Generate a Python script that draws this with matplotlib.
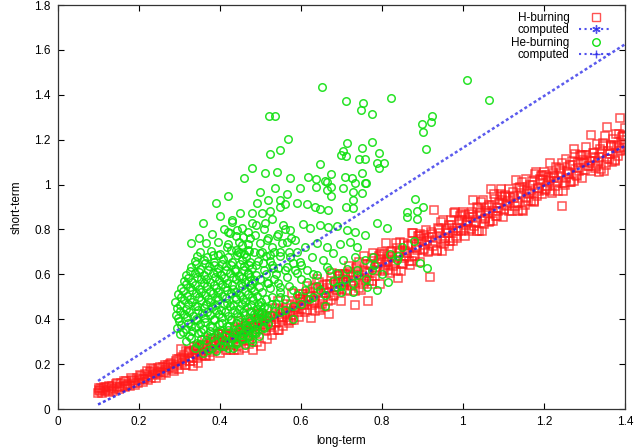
import matplotlib
matplotlib.use("Agg")
import matplotlib.pyplot as plt
from matplotlib.lines import Line2D
from matplotlib.ticker import FormatStrFormatter

# ---------------- data ----------------
h_points = [
    (0.100,0.072),(0.102,0.085),(0.105,0.078),(0.108,0.092),(0.110,0.070),(0.113,0.088),(0.117,0.080),(0.120,0.097),
    (0.124,0.086),(0.128,0.075),(0.131,0.094),(0.135,0.101),(0.140,0.088),(0.144,0.110),(0.148,0.097),(0.152,0.091),
    (0.157,0.118),(0.161,0.104),(0.166,0.099),(0.170,0.125),(0.174,0.112),(0.178,0.103),(0.183,0.131),(0.187,0.118),
    (0.191,0.109),(0.196,0.140),(0.200,0.127),(0.204,0.152),(0.208,0.133),(0.212,0.121),(0.216,0.158),(0.220,0.142),
    (0.224,0.130),(0.228,0.165),(0.232,0.150),(0.236,0.176),(0.240,0.158),(0.244,0.140),(0.248,0.181),(0.252,0.166),
    (0.256,0.150),(0.260,0.188),(0.264,0.172),(0.268,0.160),(0.272,0.196),(0.276,0.181),(0.280,0.205),(0.284,0.186),
    (0.288,0.170),(0.292,0.212),(0.296,0.195),(0.300,0.222),(0.300,0.180),
    (0.103,0.095),(0.115,0.100),(0.126,0.104),(0.138,0.080),(0.146,0.118),(0.155,0.100),(0.163,0.125),(0.172,0.108),
    (0.181,0.140),(0.189,0.125),(0.198,0.115),(0.206,0.145),(0.214,0.135),(0.222,0.168),(0.230,0.140),(0.238,0.170),
    (0.246,0.160),(0.254,0.185),(0.262,0.165),(0.270,0.185),(0.278,0.200),(0.286,0.178),(0.294,0.225),(0.230,0.182),
    (0.265,0.198),
    (0.305,0.228),(0.308,0.205),(0.312,0.240),(0.315,0.215),(0.318,0.195),(0.322,0.248),(0.325,0.226),(0.328,0.258),
    (0.332,0.233),(0.335,0.212),(0.338,0.262),(0.342,0.245),(0.345,0.228),(0.348,0.270),(0.352,0.255),(0.355,0.236),
    (0.358,0.280),(0.362,0.262),(0.365,0.240),(0.368,0.290),(0.372,0.270),(0.375,0.252),(0.378,0.298),(0.382,0.281),
    (0.385,0.262),(0.388,0.305),(0.392,0.288),(0.395,0.270),(0.398,0.312),(0.400,0.250),(0.403,0.296),(0.406,0.320),
    (0.410,0.280),(0.413,0.305),(0.416,0.330),(0.420,0.290),(0.423,0.315),(0.426,0.262),(0.430,0.338),(0.433,0.300),
    (0.436,0.325),(0.440,0.350),(0.443,0.310),(0.446,0.280),(0.450,0.340),(0.453,0.362),(0.456,0.322),(0.460,0.270),
    (0.463,0.348),(0.466,0.372),(0.470,0.330),(0.473,0.290),(0.476,0.360),(0.480,0.385),(0.483,0.262),(0.486,0.345),
    (0.490,0.372),(0.493,0.300),(0.496,0.395),(0.500,0.355),(0.503,0.282),(0.506,0.380),(0.510,0.405),(0.513,0.365),
    (0.516,0.310),(0.520,0.392),(0.523,0.415),(0.526,0.375),(0.530,0.330),(0.533,0.402),(0.536,0.425),(0.540,0.385),
    (0.543,0.350),(0.546,0.412),(0.550,0.438),(0.553,0.395),(0.556,0.372),(0.560,0.425),(0.563,0.450),(0.566,0.408),
    (0.570,0.385),(0.573,0.438),(0.576,0.462),(0.580,0.420),(0.583,0.395),(0.586,0.450),(0.590,0.472),(0.593,0.432),
    (0.596,0.410),(0.600,0.465),(0.600,0.490),
    (0.605,0.497),(0.610,0.431),(0.615,0.546),(0.620,0.480),(0.625,0.405),(0.630,0.539),(0.635,0.473),(0.640,0.578),
    (0.645,0.452),(0.650,0.517),(0.655,0.551),(0.660,0.456),(0.665,0.540),(0.670,0.424),(0.675,0.589),(0.680,0.503),
    (0.685,0.568),(0.690,0.532),(0.695,0.597),(0.700,0.481),(0.705,0.565),(0.710,0.600),(0.715,0.524),(0.720,0.639),
    (0.725,0.553),(0.730,0.598),(0.735,0.462),(0.740,0.636),(0.745,0.541),(0.750,0.595),(0.755,0.680),(0.760,0.574),
    (0.765,0.479),(0.770,0.643),(0.775,0.557),(0.780,0.672),(0.785,0.616),(0.790,0.651),(0.795,0.555),(0.800,0.700),
    (0.805,0.614),(0.810,0.738),(0.815,0.653),(0.820,0.607),(0.825,0.702),(0.830,0.646),(0.835,0.740),(0.840,0.585),
    (0.845,0.699),(0.850,0.644),(0.855,0.738),(0.860,0.683),(0.865,0.727),(0.870,0.641),(0.875,0.786),(0.880,0.680),
    (0.885,0.725),(0.890,0.769),(0.895,0.654),(0.900,0.748),(0.905,0.712),(0.910,0.797),(0.915,0.701),(0.920,0.586),
    (0.925,0.780),(0.930,0.885),(0.935,0.709),(0.940,0.803),(0.945,0.758),(0.950,0.842),(0.955,0.747),(0.960,0.801),
    (0.965,0.726),(0.970,0.840),(0.975,0.794),(0.980,0.879),(0.985,0.763),(0.990,0.838),(0.995,0.792),(1.000,0.877),
    (1.005,0.771),(1.010,0.835),(1.015,0.870),(1.020,0.804),(1.025,0.929),(1.030,0.833),(1.035,0.898),(1.040,0.792),
    (1.045,0.876),(1.050,0.931),(1.055,0.845),(1.060,0.900),(1.065,0.834),(1.070,0.978),(1.075,0.883),(1.080,0.937),
    (1.085,0.862),(1.090,0.916),(1.095,0.981),(1.100,0.855),(1.105,0.949),(1.110,0.904),(1.115,0.978),(1.120,0.883),
    (1.125,0.947),(1.130,1.022),(1.135,0.916),(1.140,0.990),(1.145,0.885),(1.150,0.979),(1.155,1.024),(1.160,0.928),
    (1.165,0.973),(1.170,1.017),(1.175,0.921),(1.180,1.056),(1.185,0.980),(1.190,1.025),(1.195,0.959),(1.200,1.054),
    (1.205,0.978),(1.210,1.032),(1.215,1.097),(1.220,0.961),(1.225,1.036),(1.230,1.080),(1.235,1.015),(1.245,0.903),
    (1.240,1.069),(1.250,1.008),(1.255,1.112),(1.260,1.057),(1.265,1.011),(1.270,1.106),(1.275,1.160),(1.280,1.044),
    (1.285,1.099),(1.290,1.133),(1.295,1.028),(1.300,1.102),(1.305,1.167),(1.310,1.081),(1.316,1.220),(1.320,1.140),
    (1.325,1.074),(1.330,1.179),(1.335,1.123),(1.340,1.068),(1.345,1.172),(1.350,1.216),(1.356,1.255),(1.360,1.115),
    (1.365,1.170),(1.370,1.204),(1.375,1.108),(1.380,1.173),(1.385,1.227),(1.388,1.295),(1.390,1.152),(1.395,1.216),
    (1.398,1.169),(1.400,1.251),
    (0.6025,0.445),(0.6125,0.484),(0.6225,0.523),(0.6325,0.481),(0.6425,0.520),(0.6525,0.469),(0.6625,0.518),(0.6725,0.557),
    (0.6825,0.506),(0.6925,0.594),(0.7025,0.533),(0.7125,0.572),(0.7225,0.611),(0.7325,0.570),(0.7425,0.609),(0.7525,0.557),
    (0.7625,0.606),(0.7725,0.645),(0.7825,0.594),(0.7925,0.683),(0.8025,0.622),(0.8125,0.661),(0.8225,0.699),(0.8325,0.658),
    (0.8425,0.697),(0.8525,0.646),(0.8625,0.695),(0.8725,0.734),(0.8825,0.682),(0.8925,0.771),(0.9025,0.710),(0.9125,0.749),
    (0.9225,0.788),(0.9325,0.747),(0.9425,0.786),(0.9525,0.734),(0.9625,0.783),(0.9725,0.822),(0.9825,0.771),(0.9925,0.860),
    (1.0025,0.799),(1.0125,0.838),(1.0225,0.876),(1.0325,0.835),(1.0425,0.874),(1.0525,0.823),(1.0625,0.872),(1.0725,0.911),
    (1.0825,0.860),(1.0925,0.948),(1.1025,0.887),(1.1125,0.926),(1.1225,0.965),(1.1325,0.924),(1.1425,0.963),(1.1525,0.911),
    (1.1625,0.960),(1.1725,0.999),(1.1825,0.948),(1.1925,1.037),(1.2025,0.976),(1.2125,1.015),(1.2225,1.053),(1.2325,1.012),
    (1.2425,1.051),(1.2525,1.000),(1.2625,1.049),(1.2725,1.088),(1.2825,1.037),(1.2925,1.125),(1.3025,1.064),(1.3125,1.103),
    (1.3225,1.142),(1.3325,1.101),(1.3425,1.140),(1.3525,1.088),(1.3625,1.137),(1.3725,1.176),(1.3825,1.125),(1.3925,1.214),
    (0.305,0.266),(0.315,0.195),(0.325,0.254),(0.335,0.193),(0.345,0.282),(0.355,0.251),(0.365,0.309),(0.375,0.238),
    (0.385,0.297),(0.395,0.336),(0.405,0.335),(0.415,0.264),(0.425,0.323),(0.435,0.262),(0.445,0.390),(0.455,0.319),
    (0.465,0.378),(0.475,0.307),(0.485,0.366),(0.495,0.425),(0.505,0.423),(0.515,0.352),(0.525,0.411),(0.535,0.350),
    (0.545,0.479),(0.555,0.408),(0.565,0.467),(0.575,0.395),(0.585,0.454),(0.595,0.513),(0.605,0.512),(0.615,0.441),
    (0.625,0.500),(0.635,0.438),(0.645,0.567),(0.655,0.496),(0.665,0.555),(0.675,0.484),(0.685,0.543),(0.695,0.602),
    (0.705,0.600),(0.715,0.529),(0.725,0.588),(0.735,0.527),(0.745,0.656),(0.755,0.585),(0.765,0.644),(0.775,0.572),
    (0.785,0.631),(0.795,0.690),(0.805,0.689),(0.815,0.618),(0.825,0.677),(0.835,0.615),(0.845,0.744),(0.855,0.673),
    (0.865,0.732),(0.875,0.661),(0.885,0.720),(0.895,0.779),(0.905,0.777),(0.915,0.706),(0.925,0.765),(0.935,0.704),
    (0.945,0.833),(0.955,0.762),(0.965,0.821),(0.975,0.749),(0.985,0.808),(0.995,0.867),(1.005,0.866),(1.015,0.795),
    (1.025,0.854),(1.035,0.793),(1.045,0.921),(1.055,0.850),(1.065,0.909),(1.075,0.838),(1.085,0.897),(1.095,0.956),
    (1.105,0.954),(1.115,0.883),(1.125,0.942),(1.135,0.881),(1.145,1.010),(1.155,0.939),(1.165,0.998),(1.175,0.926),
    (1.185,0.985),(1.195,1.044),(1.205,1.043),(1.215,0.972),(1.225,1.031),(1.235,0.970),(1.245,1.098),(1.255,1.027),
    (1.265,1.086),(1.275,1.015),(1.285,1.074),(1.295,1.133),(1.305,1.132),(1.315,1.060),(1.325,1.119),(1.335,1.058),
    (1.345,1.187),(1.355,1.116),(1.365,1.175),(1.375,1.103),(1.385,1.162),(1.395,1.221),
    (0.3075,0.219),(0.3175,0.257),(0.3275,0.216),(0.3375,0.275),(0.3475,0.205),(0.3575,0.283),(0.3675,0.237),(0.3775,0.315),
    (0.3875,0.284),(0.3975,0.333),(0.4075,0.287),(0.4175,0.326),(0.4275,0.285),(0.4375,0.364),(0.4475,0.263),(0.4575,0.351),
    (0.4675,0.305),(0.4775,0.429),(0.4875,0.353),(0.4975,0.402),(0.5075,0.376),(0.5175,0.414),(0.5275,0.373),(0.5375,0.452),
    (0.5475,0.351),(0.5575,0.440),(0.5675,0.394),(0.5775,0.518),(0.5875,0.441),(0.5975,0.490),(0.6075,0.464),(0.6175,0.503),
    (0.6275,0.462),(0.6375,0.541),(0.6475,0.440),(0.6575,0.528),(0.6675,0.482),(0.6775,0.606),(0.6875,0.530),(0.6975,0.579),
    (0.7075,0.553),(0.7175,0.591),(0.7275,0.550),(0.7375,0.629),(0.7475,0.528),(0.7575,0.617),(0.7675,0.571),(0.7775,0.695),
    (0.7875,0.618),(0.7975,0.667),(0.8075,0.641),(0.8175,0.680),(0.8275,0.639),(0.8375,0.718),(0.8475,0.617),(0.8575,0.705),
    (0.8675,0.659),(0.8775,0.783),(0.8875,0.707),(0.8975,0.756),(0.9075,0.730),(0.9175,0.768),(0.9275,0.727),(0.9375,0.806),
    (0.9475,0.705),(0.9575,0.794),(0.9675,0.748),(0.9775,0.872),(0.9875,0.795),(0.9975,0.844),(1.0075,0.818),(1.0175,0.857),
    (1.0275,0.816),(1.0375,0.895),(1.0475,0.794),(1.0575,0.882),(1.0675,0.836),(1.0775,0.960),(1.0875,0.884),(1.0975,0.933),
    (1.1075,0.907),(1.1175,0.945),(1.1275,0.904),(1.1375,0.983),(1.1475,0.882),(1.1575,0.971),(1.1675,0.925),(1.1775,1.049),
    (1.1875,0.972),(1.1975,1.021),(1.2075,0.995),(1.2175,1.034),(1.2275,0.993),(1.2375,1.072),(1.2475,0.971),(1.2575,1.059),
    (1.2675,1.013),(1.2775,1.137),(1.2875,1.061),(1.2975,1.110),(1.3075,1.084),(1.3175,1.122),(1.3275,1.081),(1.3375,1.160),
    (1.3475,1.059),(1.3575,1.148),(1.3675,1.102),(1.3775,1.226),(1.3875,1.149),(1.3975,1.198),
]

he_points = [
    # dense cluster
    (0.340,0.272),(0.372,0.265),(0.401,0.280),(0.433,0.270),(0.462,0.283),
    (0.318,0.302),(0.345,0.295),(0.366,0.308),(0.389,0.298),(0.412,0.305),(0.437,0.296),(0.458,0.310),(0.481,0.300),
    (0.302,0.332),(0.325,0.325),(0.347,0.338),(0.368,0.328),(0.391,0.335),(0.414,0.324),(0.436,0.340),(0.457,0.330),
    (0.479,0.337),(0.497,0.326),
    (0.295,0.362),(0.316,0.355),(0.338,0.367),(0.359,0.358),(0.381,0.365),(0.402,0.352),(0.424,0.368),(0.445,0.357),
    (0.467,0.364),(0.488,0.355),(0.508,0.366),
    (0.300,0.392),(0.321,0.385),(0.343,0.397),(0.364,0.388),(0.386,0.395),(0.407,0.383),(0.429,0.398),(0.450,0.387),
    (0.472,0.394),(0.493,0.385),(0.513,0.396),
    (0.292,0.418),(0.313,0.425),(0.334,0.415),(0.356,0.427),(0.377,0.417),(0.399,0.424),(0.420,0.414),(0.442,0.428),
    (0.463,0.418),(0.485,0.425),(0.506,0.415),
    (0.296,0.452),(0.318,0.445),(0.339,0.457),(0.361,0.448),(0.382,0.455),(0.404,0.443),(0.425,0.458),(0.447,0.447),
    (0.468,0.454),(0.490,0.445),(0.510,0.456),
    (0.290,0.478),(0.311,0.485),(0.333,0.475),(0.354,0.487),(0.376,0.477),(0.397,0.484),(0.419,0.474),(0.440,0.488),
    (0.462,0.478),(0.483,0.485),(0.503,0.476),
    (0.298,0.512),(0.320,0.505),(0.341,0.517),(0.363,0.508),(0.384,0.515),(0.406,0.503),(0.427,0.518),(0.449,0.507),
    (0.470,0.514),(0.492,0.505),
    (0.305,0.538),(0.326,0.545),(0.348,0.535),(0.369,0.547),(0.391,0.537),(0.412,0.544),(0.434,0.534),(0.455,0.548),
    (0.477,0.538),(0.497,0.545),
    (0.312,0.572),(0.333,0.565),(0.355,0.577),(0.376,0.568),(0.398,0.575),(0.419,0.563),(0.441,0.578),(0.462,0.567),
    (0.484,0.574),
    (0.318,0.598),(0.340,0.605),(0.361,0.595),(0.383,0.607),(0.404,0.597),(0.426,0.604),(0.447,0.594),(0.469,0.608),
    (0.490,0.598),
    (0.330,0.632),(0.352,0.625),(0.373,0.637),(0.395,0.628),(0.416,0.635),(0.438,0.623),(0.459,0.638),(0.480,0.627),
    (0.338,0.658),(0.362,0.665),(0.385,0.655),(0.408,0.667),(0.431,0.657),(0.454,0.664),(0.476,0.654),
    (0.352,0.698),(0.378,0.705),(0.402,0.692),(0.427,0.708),(0.451,0.697),(0.472,0.703),
    (0.366,0.738),(0.395,0.745),(0.421,0.733),(0.448,0.742),(0.470,0.736),
    (0.330,0.318),(0.355,0.312),(0.380,0.320),(0.405,0.314),(0.430,0.321),(0.455,0.316),
    (0.305,0.376),(0.330,0.372),(0.352,0.380),(0.375,0.371),(0.398,0.378),(0.418,0.370),(0.440,0.381),(0.462,0.373),
    (0.482,0.379),
    (0.303,0.437),(0.325,0.432),(0.347,0.440),(0.370,0.431),(0.392,0.439),(0.414,0.433),(0.436,0.440),(0.457,0.431),
    (0.478,0.438),(0.498,0.432),
    (0.305,0.497),(0.327,0.492),(0.349,0.500),(0.371,0.491),(0.393,0.499),(0.415,0.493),(0.437,0.500),(0.458,0.491),
    (0.480,0.498),
    (0.318,0.557),(0.340,0.552),(0.362,0.560),(0.385,0.551),(0.407,0.559),(0.430,0.553),(0.452,0.560),(0.474,0.551),
    (0.328,0.617),(0.350,0.612),(0.372,0.620),(0.394,0.611),(0.416,0.619),(0.438,0.613),(0.460,0.620),
    (0.345,0.682),(0.370,0.678),(0.395,0.686),(0.420,0.676),(0.444,0.684),(0.466,0.679),
    (0.310,0.343),(0.332,0.349),(0.354,0.341),(0.376,0.347),(0.398,0.344),(0.420,0.350),(0.442,0.342),(0.464,0.348),
    (0.486,0.345),
    (0.297,0.404),(0.319,0.409),(0.341,0.401),(0.363,0.407),(0.385,0.403),(0.407,0.410),(0.429,0.402),(0.451,0.408),
    (0.473,0.404),(0.495,0.406),
    (0.301,0.463),(0.323,0.468),(0.345,0.461),(0.367,0.467),(0.389,0.464),(0.411,0.469),(0.433,0.462),(0.455,0.467),
    (0.477,0.465),(0.499,0.460),
    (0.309,0.524),(0.331,0.529),(0.353,0.521),(0.375,0.527),(0.397,0.523),(0.419,0.528),(0.441,0.522),(0.463,0.527),
    (0.485,0.525),
    (0.322,0.584),(0.344,0.589),(0.366,0.581),(0.388,0.587),(0.410,0.583),(0.432,0.588),(0.454,0.582),(0.476,0.586),
    (0.341,0.644),(0.363,0.649),(0.385,0.641),(0.407,0.647),(0.429,0.643),(0.451,0.648),(0.473,0.642),
    (0.500,0.580),(0.510,0.620),(0.520,0.560),(0.530,0.640),(0.540,0.600),(0.550,0.680),(0.560,0.620),(0.570,0.700),
    (0.580,0.650),(0.505,0.520),(0.525,0.540),(0.545,0.560),(0.565,0.590),(0.585,0.620),(0.495,0.660),(0.515,0.680),
    (0.535,0.700),(0.555,0.740),(0.575,0.760),(0.545,0.780),(0.520,0.760),(0.500,0.740),(0.485,0.700),(0.490,0.640),
    (0.480,0.560),(0.470,0.600),(0.460,0.690),(0.475,0.760),(0.455,0.730),(0.440,0.710),(0.510,0.800),(0.560,0.800),
    (0.590,0.700),(0.600,0.640),(0.530,0.470),(0.550,0.500),(0.515,0.490),(0.495,0.470),(0.505,0.430),(0.485,0.410),
    (0.520,0.410),
    (0.380,0.780),(0.410,0.800),(0.440,0.770),(0.470,0.790),(0.360,0.830),(0.400,0.860),(0.430,0.840),(0.350,0.760),
    (0.490,0.820),(0.390,0.920),(0.420,0.950),(0.330,0.740),(0.384,0.686),(0.421,0.790),(0.442,0.798),
    # near the red band
    (0.600,0.470),(0.630,0.500),(0.660,0.460),(0.700,0.520),(0.730,0.560),(0.760,0.580),(0.800,0.600),(0.840,0.680),
    (0.550,0.430),(0.580,0.400),(0.520,0.380),(0.500,0.420),(0.470,0.360),(0.450,0.330),(0.430,0.310),(0.410,0.280),
    (0.380,0.270),(0.360,0.250),(0.350,0.290),
    (0.520,0.450),(0.530,0.500),(0.540,0.470),(0.550,0.520),(0.560,0.490),(0.570,0.550),(0.580,0.460),(0.590,0.510),
    (0.610,0.530),(0.620,0.490),(0.640,0.550),(0.660,0.510),(0.680,0.570),(0.700,0.550),(0.530,0.420),(0.560,0.440),
    (0.515,0.600),(0.535,0.580),(0.525,0.660),(0.545,0.630),(0.600,0.580),(0.630,0.600),(0.670,0.620),(0.710,0.580),
    (0.740,0.620),(0.780,0.640),(0.820,0.690),(0.850,0.720),(0.880,0.750),(0.505,0.700),(0.530,0.720),(0.490,0.340),
    (0.510,0.360),(0.470,0.320),(0.440,0.290),(0.420,0.270),(0.390,0.260),(0.480,0.310),
    # scattered tail
    (0.653,1.434),(0.712,1.373),(0.753,1.362),(0.749,1.334),(0.823,1.385),(0.777,1.316),(1.009,1.465),(1.065,1.377),
    (0.521,1.307),(0.536,1.307),(0.568,1.203),(0.925,1.304),(0.922,1.278),(0.900,1.269),(0.902,1.234),(0.910,1.159),
    (0.524,1.136),(0.548,1.156),(0.481,1.075),(0.461,1.031),(0.713,1.184),(0.750,1.165),(0.777,1.191),(0.793,1.142),
    (0.705,1.151),(0.699,1.132),(0.711,1.129),(0.744,1.113),(0.759,1.113),(0.787,1.098),(0.805,1.096),(0.793,1.075),
    (0.647,1.093),(0.750,1.053),(0.727,1.028),(0.762,1.008),(0.617,1.033),(0.638,1.026),(0.664,1.012),(0.675,1.047),
    (0.709,1.035),(0.734,1.008),(0.759,1.006),(0.574,1.029),(0.512,1.053),(0.541,1.058),
    (0.500,0.968),(0.537,0.984),(0.567,0.959),(0.598,0.984),(0.638,0.989),(0.661,1.015),(0.664,0.976),(0.674,0.991),
    (0.675,0.949),(0.705,0.984),(0.730,0.968),(0.728,0.931),(0.750,0.961),
    (0.491,0.919),(0.520,0.931),(0.549,0.931),(0.562,0.914),(0.590,0.917),(0.615,0.914),(0.635,0.902),(0.648,0.890),
    (0.668,0.887),(0.712,0.902),(0.730,0.894),(0.450,0.872),(0.479,0.875),(0.504,0.872),(0.524,0.884),(0.549,0.902),
    (0.430,0.835),(0.454,0.805),(0.479,0.828),(0.512,0.830),(0.528,0.845),(0.557,0.820),(0.574,0.798),(0.605,0.824),
    (0.623,0.805),(0.648,0.820),(0.668,0.812),(0.689,0.817),(0.713,0.798),(0.734,0.790),(0.759,0.775),(0.787,0.828),
    (0.812,0.808),(0.861,0.879),(0.862,0.856),(0.887,0.848),(0.902,0.900),(0.888,0.884),(0.883,0.937),
    (0.426,0.783),(0.458,0.768),(0.487,0.775),(0.516,0.753),(0.541,0.771),(0.565,0.746),(0.586,0.753),(0.610,0.723),
    (0.639,0.738),(0.664,0.723),(0.697,0.735),(0.722,0.746),(0.738,0.723),
    (0.417,0.723),(0.446,0.701),(0.471,0.709),(0.500,0.694),(0.524,0.686),(0.549,0.701),(0.574,0.679),(0.598,0.656),
    (0.627,0.679),(0.656,0.664),(0.680,0.694),(0.705,0.664),(0.734,0.679),(0.759,0.664),(0.779,0.679),
    (0.508,0.649),(0.532,0.627),(0.565,0.634),(0.590,0.605),(0.615,0.619),(0.639,0.597),(0.664,0.634),(0.689,0.605),
    (0.713,0.623),(0.738,0.597),(0.775,0.619),(0.837,0.664),(0.894,0.649),(0.911,0.627),
    (0.516,0.560),(0.549,0.545),(0.582,0.530),(0.615,0.567),(0.648,0.530),(0.689,0.545),(0.730,0.523),(0.763,0.545),
    (0.787,0.530),(0.816,0.567),
]

comp_h_x = [0.10, 1.40]
comp_h_y = [0.020, 1.172]
comp_he_x = [0.10, 1.40]
comp_he_y = [0.125, 1.625]

x_ticks = [0, 0.2, 0.4, 0.6, 0.8, 1.0, 1.2, 1.4]
y_ticks = [0, 0.2, 0.4, 0.6, 0.8, 1.0, 1.2, 1.4, 1.6, 1.8]
labels = ["H-burning", "computed", "He-burning", "computed"]

# ---------------- drawing ----------------
plt.rcParams['font.family'] = ['Liberation Sans', 'DejaVu Sans']
fig = plt.figure(figsize=(6.35, 4.48), dpi=100)
ax = fig.add_axes([57.5/635, 1-409/448, (625-57.5)/635, (409-5)/448])

hx = [p[0] for p in h_points]
hy = [p[1] for p in h_points]
ex = [p[0] for p in he_points]
ey = [p[1] for p in he_points]

red = '#ff1a1a'
green = '#10e010'
blue = '#2424e8'

ax.plot(hx, hy, ls='none', marker='s', ms=5.2, mfc='none', mec=red, mew=1.1, alpha=0.75)
ax.plot(comp_h_x, comp_h_y, ls=(0, (1.2, 1.0)), color=blue, lw=1.8, alpha=0.85)
ax.plot(ex, ey, ls='none', marker='o', ms=5.4, mfc='none', mec=green, mew=1.1, alpha=0.9)
ax.plot(comp_he_x, comp_he_y, ls=(0, (1.2, 1.0)), color=blue, lw=1.8, alpha=0.75)

ax.set_xlim(0, 1.4)
ax.set_ylim(0, 1.8)
ax.set_xticks(x_ticks)
ax.set_yticks(y_ticks)
ax.xaxis.set_major_formatter(FormatStrFormatter('%g'))
ax.yaxis.set_major_formatter(FormatStrFormatter('%g'))
ax.tick_params(direction='in', length=4, width=0.8, top=True, right=True, labelsize=8.5, pad=5, colors='black')
for s in ax.spines.values():
    s.set_linewidth(0.9)
    s.set_color('#333333')
ax.set_xlabel('long-term', fontsize=8.5, labelpad=5)
ax.set_ylabel('short-term', fontsize=8.5, labelpad=8)

handles = [
    Line2D([], [], ls='none', marker='s', ms=5.2, mfc='none', mec=red, mew=1.0, alpha=0.75),
    Line2D([], [], ls=':', color=blue, lw=1.5, marker=(6, 2, 0), ms=6, alpha=0.8),
    Line2D([], [], ls='none', marker='o', ms=5.4, mfc='none', mec=green, mew=1.0),
    Line2D([], [], ls=':', color=blue, lw=1.5, marker='+', ms=6, alpha=0.8),
]
ax.legend(handles, labels, loc='upper right', markerfirst=False, frameon=False, fontsize=8.5,
          handlelength=2.8, handletextpad=0.8, labelspacing=0.05, borderaxespad=0.3,
          bbox_to_anchor=(0.992, 1.004))

fig.savefig('out.png', dpi=100)
